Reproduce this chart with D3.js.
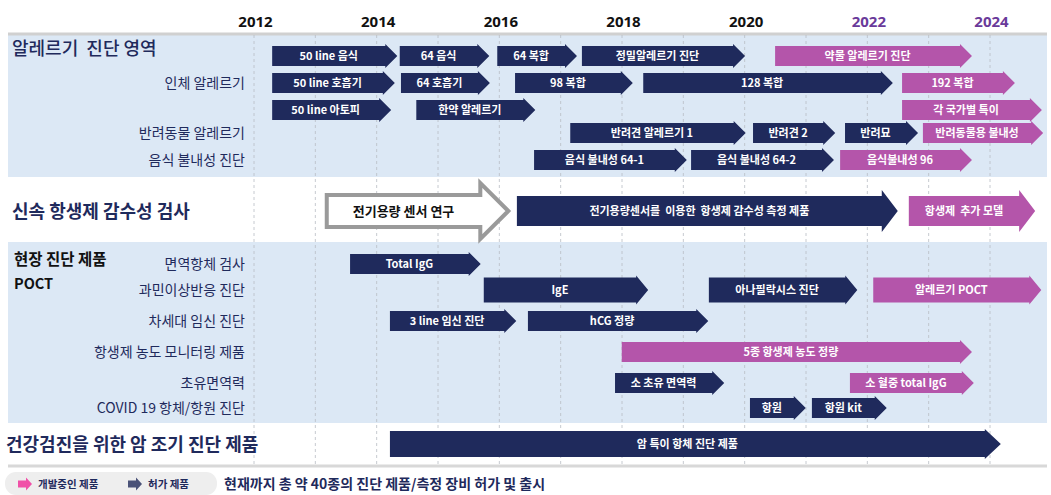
<!DOCTYPE html>
<html><head><meta charset="utf-8">
<script src="https://cdn.jsdelivr.net/npm/d3@7"></script>
<style>body{margin:0;background:#fff}svg{display:block;font-family:"Noto Sans CJK KR","Noto Sans",sans-serif}text{white-space:pre}</style>
</head><body><div id="chart"></div>
<script>
// --- data ---
const years = [2012, 2014, 2016, 2018, 2020, 2022, 2024];
const planYears = [2022, 2024];
const sections = ["알레르기  진단 영역", "신속 항생제 감수성 검사", "현장 진단 제품", "건강검진을 위한 암 조기 진단 제품"];
const rowLabels = ["r1", "인체 알레르기", "r3", "반려동물 알레르기", "음식 불내성 진단", "abx",
  "면역항체 검사", "과민이상반응 진단", "차세대 임신 진단", "항생제 농도 모니터링 제품", "초유면역력", "COVID 19 항체/항원 진단", "cancer"];
// [row, label, start, end, type]  type: d = 허가, p = 개발중, o = 연구
const bars = [
  ["r1", "50 line 음식", 2012.28, 2014.32, "d"],
  ["r1", "64 음식", 2014.36, 2015.82, "d"],
  ["r1", "64 복합", 2015.95, 2017.25, "d"],
  ["r1", "정밀알레르기 진단", 2017.33, 2019.99, "d"],
  ["r1", "약물 알레르기 진단", 2020.48, 2023.69, "p"],
  ["인체 알레르기", "50 line 호흡기", 2012.28, 2014.28, "d"],
  ["인체 알레르기", "64 호흡기", 2014.38, 2015.83, "d"],
  ["인체 알레르기", "98 복합", 2016.24, 2018.16, "d"],
  ["인체 알레르기", "128 복합", 2018.33, 2022.40, "d"],
  ["인체 알레르기", "192 복합", 2022.55, 2024.39, "p"],
  ["r3", "50 line 아토피", 2012.28, 2014.22, "d"],
  ["r3", "한약 알레르기", 2014.63, 2016.57, "d"],
  ["r3", "각 국가별 특이", 2022.55, 2024.83, "p"],
  ["반려동물 알레르기", "반려견 알레르기 1", 2017.14, 2020.0, "d"],
  ["반려동물 알레르기", "반려견 2", 2020.12, 2021.46, "d"],
  ["반려동물 알레르기", "반려묘", 2021.62, 2022.81, "d"],
  ["반려동물 알레르기", "반려동물용 불내성", 2022.89, 2024.85, "p"],
  ["음식 불내성 진단", "음식 불내성 64-1", 2016.55, 2019.04, "d"],
  ["음식 불내성 진단", "음식 불내성 64-2", 2019.11, 2021.44, "d"],
  ["음식 불내성 진단", "음식불내성 96", 2021.54, 2023.69, "p"],
  ["abx", "전기용량 센서 연구", 2013.17, 2016.13, "o"],
  ["abx", "전기용량센서를  이용한  항생제 감수성 측정 제품", 2016.27, 2022.48, "d"],
  ["abx", "항생제  추가 모델", 2022.66, 2024.72, "p"],
  ["면역항체 검사", "Total IgG", 2013.55, 2015.68, "d"],
  ["과민이상반응 진단", "IgE", 2015.73, 2018.41, "d"],
  ["과민이상반응 진단", "아나필락시스 진단", 2019.40, 2021.82, "d"],
  ["과민이상반응 진단", "알레르기 POCT", 2022.08, 2024.82, "p"],
  ["차세대 임신 진단", "3 line 임신 진단", 2014.20, 2016.26, "d"],
  ["차세대 임신 진단", "hCG 정량", 2016.45, 2019.39, "d"],
  ["항생제 농도 모니터링 제품", "5종 항생제 농도 정량", 2017.98, 2023.69, "p"],
  ["초유면역력", "소 초유 면역력", 2017.87, 2019.65, "d"],
  ["초유면역력", "소 혈중 total IgG", 2021.70, 2023.72, "p"],
  ["COVID 19 항체/항원 진단", "항원", 2020.07, 2020.98, "d"],
  ["COVID 19 항체/항원 진단", "항원 kit", 2021.08, 2022.30, "d"],
  ["cancer", "암 특이 항체 진단 제품", 2014.20, 2024.16, "d"]
];
const footnote = "현재까지 총 약 40종의 진단 제품/측정 장비 허가 및 출시";

// --- layout ---
const W = 1051, H = 495;
const NAVY = "#1f2a5c", PINK = "#b455aa";
const x = d3.scaleLinear().domain([2012, 2024]).range([255, 991]);
const rowY = {"r1": 56, "인체 알레르기": 83, "r3": 110, "반려동물 알레르기": 133, "음식 불내성 진단": 160, "abx": 211,
  "면역항체 검사": 264, "과민이상반응 진단": 290, "차세대 임신 진단": 321, "항생제 농도 모니터링 제품": 352,
  "초유면역력": 383, "COVID 19 항체/항원 진단": 408, "cancer": 444};
const rowH = {"abx": 30, "cancer": 26, "과민이상반응 진단": 25};

const svg = d3.select("#chart").append("svg").attr("width", W).attr("height", H);

svg.append("rect").attr("x", 8).attr("y", 35).attr("width", 1039).attr("height", 142).attr("fill", "#dce8f5");
svg.append("rect").attr("x", 8).attr("y", 242).attr("width", 1039).attr("height", 181).attr("fill", "#dce8f5");
svg.append("line").attr("x1", 8).attr("x2", 1047).attr("y1", 34).attr("y2", 34).attr("stroke", "#d0d0d0").attr("stroke-width", 3);
svg.append("line").attr("x1", 8).attr("x2", 1047).attr("y1", 466).attr("y2", 466).attr("stroke", "#d8d8d8").attr("stroke-width", 3);

// grid
svg.append("g").selectAll("line").data(d3.range(2012, 2025)).join("line")
  .attr("x1", d => x(d) - 1).attr("x2", d => x(d) - 1).attr("y1", 35).attr("y2", 465)
  .attr("stroke", "#b8bcc4").attr("stroke-width", 0.8).attr("stroke-dasharray", "3,3");

// year axis
const axis = svg.append("g").attr("transform", "translate(0,22)")
  .call(d3.axisTop(x).tickValues(years).tickFormat(d3.format("d")).tickSize(0));
axis.select(".domain").remove();
axis.selectAll("text").attr("font-size", 15).attr("font-weight", 700).attr("dy", "0.5em")
  .attr("font-family", "Open Sans, sans-serif")
  .attr("fill", d => planYears.includes(d) ? "#6a3a9a" : "#111");

// section titles
const titles = [[sections[0], 12, 55], [sections[1], 12, 218], [sections[3], 6, 451]];
svg.append("g").selectAll("text").data(titles).join("text")
  .attr("x", d => d[1]).attr("y", d => d[2]).text(d => d[0])
  .attr("font-size", 18).attr("font-weight", d => d[0] === sections[0] ? 500 : 700).attr("fill", NAVY);
svg.append("text").attr("x", 14).attr("y", 265).text(sections[2]).attr("font-size", 15.5).attr("font-weight", 700).attr("fill", "#111");
svg.append("text").attr("x", 14).attr("y", 289).text("POCT").attr("font-size", 14.5).attr("font-weight", 700).attr("fill", "#111");

// row labels
svg.append("g").selectAll("text").data(rowLabels.filter(r => !["r1", "r3", "abx", "cancer"].includes(r))).join("text")
  .attr("x", 245).attr("y", r => rowY[r]).attr("dy", "0.35em").attr("text-anchor", "end")
  .attr("font-size", 14).attr("fill", NAVY).text(r => r);

// arrows
function arrowPath(x0, x1, yc, h, tip, over) {
  const t = h / 2, b = x1 - tip;
  return `M${x0},${yc - t}L${b},${yc - t}L${b},${yc - t - over}L${x1},${yc}L${b},${yc + t + over}L${b},${yc + t}L${x0},${yc + t}Z`;
}
const g = svg.append("g");
bars.forEach(([row, label, s, e, type]) => {
  const yc = rowY[row];
  if (type === "o") {
    g.append("path").attr("d", arrowPath(x(s), x(e), yc, 32, 28, 12))
      .attr("fill", "#fff").attr("stroke", "#9a9a9a").attr("stroke-width", 4);
    g.append("text").attr("x", (x(s) + x(e) - 28) / 2).attr("y", yc).attr("dy", "0.35em")
      .attr("text-anchor", "middle").attr("font-size", 13).attr("font-weight", 700).attr("fill", "#111").text(label);
    return;
  }
  const h = rowH[row] || 20;
  const tip = row === "abx" || row === "cancer" ? 16 : 12;
  g.append("path").attr("d", arrowPath(x(s), x(e), yc, h, tip, row === "abx" ? 6 : 2))
    .attr("fill", type === "p" ? PINK : NAVY);
  g.append("text").attr("x", (x(s) + x(e) - tip) / 2).attr("y", yc).attr("dy", "0.35em")
    .attr("text-anchor", "middle").attr("font-size", 11).attr("font-weight", 700).attr("fill", "#fff").text(label);
});

// legend
svg.append("rect").attr("x", 5).attr("y", 472).attr("width", 212).attr("height", 23).attr("rx", 11).attr("fill", "#eeeeee");
const legend = [["개발중인 제품", "#f050a8", 18], ["허가 제품", "#4a5278", 128]];
legend.forEach(([t, c, lx]) => {
  svg.append("path").attr("d", arrowPath(lx, lx + 14, 484, 7, 6, 3)).attr("fill", c);
  svg.append("text").attr("x", lx + 20).attr("y", 484).attr("dy", "0.35em").attr("font-size", 10.5)
    .attr("font-weight", 700).attr("fill", NAVY).text(t);
});
svg.append("text").attr("x", 224).attr("y", 484).attr("dy", "0.35em").attr("font-size", 14)
  .attr("font-weight", 700).attr("fill", NAVY).text(footnote);
</script></body></html>
